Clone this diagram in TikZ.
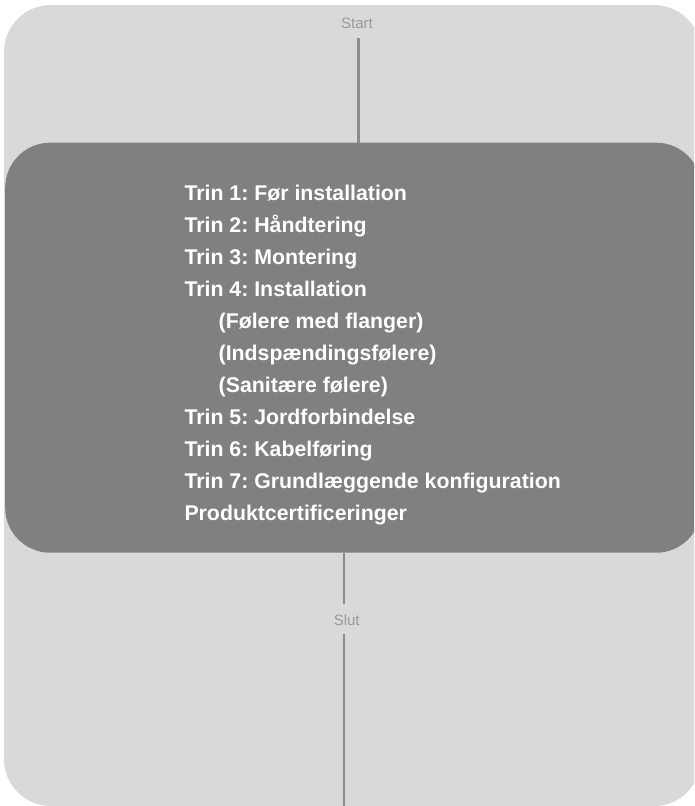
\documentclass[tikz,border=0pt]{standalone}
\usepackage{fontspec}
\setmainfont{Liberation Sans}
\definecolor{outerbg}{HTML}{D9D9D9}
\definecolor{boxbg}{HTML}{808080}
\definecolor{connc}{HTML}{8C8C8C}
\definecolor{lblc}{HTML}{9A9A9A}
\frenchspacing
\begin{document}
\begin{tikzpicture}[x=1pt,y=-1pt,
  outerbox/.style={fill=outerbg,draw=none,rounded corners=47pt},
  darkbox/.style={fill=boxbg,draw=none,rounded corners=45pt,rectangle,inner sep=0pt},
  item/.style={anchor=base west,inner sep=0pt,text=white,font=\fontsize{21.3}{24}\selectfont\bfseries},
  lbl/.style={anchor=base,inner sep=0pt,text=lblc,font=\fontsize{15}{18}\selectfont},
  conn/.style={draw=connc,line width=2.6pt}]
\useasboundingbox (0,0) rectangle (694,806);
\clip (0,0) rectangle (694,806);
\fill[outerbox] (4,5) rectangle (701,806);
% main box
\node[darkbox,minimum width=696pt,minimum height=410pt] (box) at (353.2,347.7) {};
% items
\def\bx{184.3}
\def\ix{218.5}
\node[item] (t1) at (\bx,200.7) {Trin 1: Før installation};
\node[item] (t2) at (\bx,232.6) {Trin 2: Håndtering};
\node[item] (t3) at (\bx,264.6) {Trin 3: Montering};
\node[item] (t4) at (\bx,296.5) {Trin 4: Installation};
\node[item] (t5) at (\ix,328.4) {(Følere med flanger)};
\node[item] (t6) at (\ix,360.3) {(Indspændingsfølere)};
\node[item] (t7) at (\ix,392.3) {(Sanitære følere)};
\node[item] (t8) at (\bx,424.2) {Trin 5: Jordforbindelse};
\node[item] (t9) at (\bx,456.1) {Trin 6: Kabelføring};
\node[item] (t10) at (\bx,488.1) {Trin 7: Grundlæggende konfiguration};
\node[item] (t11) at (\bx,520.0) {Produktcertificeringer};
% start / end
\node[lbl] (start) at (357,28.3) {Start};
\node[lbl] (slut) at (346.7,625) {Slut};
\coordinate (s1) at (358.7,38);
\coordinate (e1) at (344,604);
\coordinate (e2) at (344,634);
\coordinate (e3) at (344,812);
\draw[conn] (s1) -- (s1 |- box.north);
\draw[conn] (e1 |- box.south) -- (e1);
\draw[conn] (e2) -- (e3);
\end{tikzpicture}
\end{document}
